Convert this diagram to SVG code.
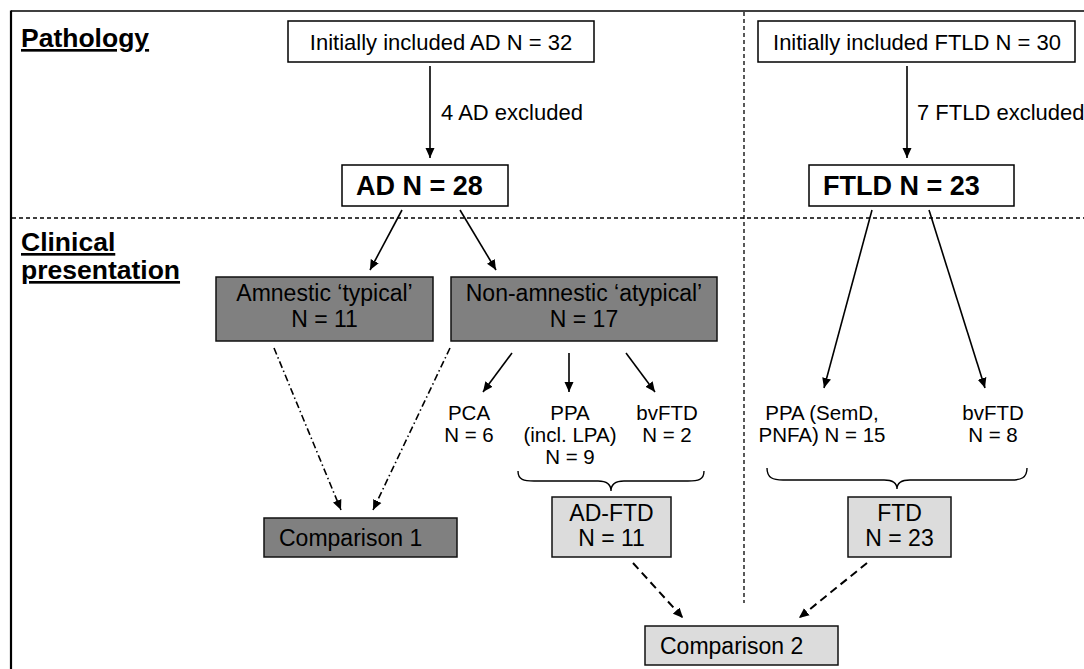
<svg xmlns="http://www.w3.org/2000/svg" width="1084" height="669" viewBox="0 0 1084 669">
<style>
text{font-family:"Liberation Sans",Arial,sans-serif;fill:#000}
.t{font-size:22px}
.s{font-size:20.5px}
.tb{font-size:23px}
.h{font-size:26.5px;font-weight:bold;text-decoration:underline}
.b{font-size:27px;font-weight:bold}
.m{text-anchor:middle}
.wb{fill:#fff;stroke:#000;stroke-width:1.5}
.dk{fill:#808080;stroke:#111;stroke-width:1.5}
.lt{fill:#dcdcdc;stroke:#111;stroke-width:1.5}
.sep{stroke:#000;stroke-width:1.3;stroke-dasharray:4 3;fill:none}
.ar{stroke:#000;stroke-width:1.6;fill:none;marker-end:url(#ah)}
.dd{stroke:#000;stroke-width:1.6;fill:none;stroke-dasharray:7 3 1.5 3;marker-end:url(#ah)}
.da{stroke:#000;stroke-width:2;fill:none;stroke-dasharray:8 5;marker-end:url(#ah)}
.br{stroke:#000;stroke-width:1.4;fill:none}
</style>
<defs>
<marker id="ah" viewBox="0 0 10 10" refX="10" refY="5" markerUnits="userSpaceOnUse" markerWidth="10" markerHeight="10" orient="auto">
<path d="M0,0.5 L10,5 L0,9.5 Z" fill="#000"/>
</marker>
</defs>
<rect x="0" y="0" width="1084" height="669" fill="#fff"/>
<g id="frame">
<line x1="11" y1="11" x2="1084" y2="11" stroke="#000" stroke-width="1.5"/>
<line x1="11" y1="10.5" x2="11" y2="669" stroke="#000" stroke-width="2.2"/>
<line class="sep" x1="12" y1="218" x2="1084" y2="218"/>
<line class="sep" x1="744" y1="12" x2="744" y2="603"/>
</g>
<g id="section-labels">
<text class="h" x="21" y="47">Pathology</text>
<text class="h" x="21" y="251">Clinical</text>
<text class="h" x="21" y="279">presentation</text>
</g>
<g id="connectors">
<line class="ar" x1="430" y1="66" x2="430" y2="158"/>
<line class="ar" x1="907" y1="66" x2="907" y2="158"/>
<line class="ar" x1="402" y1="210" x2="370" y2="270"/>
<line class="ar" x1="460" y1="210" x2="496" y2="270"/>
<line class="ar" x1="872" y1="210" x2="824" y2="388"/>
<line class="ar" x1="929" y1="210" x2="985" y2="388"/>
<line class="ar" x1="512" y1="353" x2="483" y2="392"/>
<line class="ar" x1="569" y1="353" x2="569" y2="392"/>
<line class="ar" x1="626" y1="353" x2="655" y2="392"/>
<line class="dd" x1="274" y1="348" x2="341" y2="510"/>
<line class="dd" x1="450" y1="348" x2="373" y2="510"/>
<line class="da" x1="633" y1="563" x2="683" y2="618"/>
<line class="da" x1="867" y1="563" x2="799" y2="618"/>
<path class="br" d="M518,471 C518,480 524,481 534,481 L598,481 C607,481 611,484 611,491 C611,484 615,481 624,481 L688,481 C698,481 704,480 704,471"/>
<path class="br" d="M767,468 C767,478 773,480 783,480 L884,480 C893,480 897,483 897,489 C897,483 901,480 910,480 L1011,480 C1021,480 1027,478 1027,468"/>
<text class="t" x="441" y="120">4 AD excluded</text>
<text class="t" x="917" y="120">7 FTLD excluded</text>
</g>
<g id="n-init-ad">
<rect class="wb" x="288" y="21" width="306" height="41"/>
<text class="t m" x="441" y="50">Initially included AD N = 32</text>
</g>
<g id="n-init-ftld">
<rect class="wb" x="758" y="21" width="317" height="41"/>
<text class="t m" x="917" y="50">Initially included FTLD N = 30</text>
</g>
<g id="n-ad">
<rect class="wb" x="342" y="165" width="166" height="41"/>
<text class="b" x="356" y="195">AD N = 28</text>
</g>
<g id="n-ftld">
<rect class="wb" x="809" y="165" width="205" height="41"/>
<text class="b" x="823" y="195">FTLD N = 23</text>
</g>
<g id="n-amnestic">
<rect class="dk" x="216" y="277" width="217" height="64"/>
<text class="tb m" x="324.5" y="301">Amnestic ‘typical’</text>
<text class="tb m" x="324.5" y="327">N = 11</text>
</g>
<g id="n-nonamnestic">
<rect class="dk" x="451" y="277" width="266" height="64"/>
<text class="tb m" x="584" y="301">Non-amnestic ‘atypical’</text>
<text class="tb m" x="584" y="327">N = 17</text>
</g>
<g id="n-pca">
<text class="s m" x="469" y="420">PCA</text>
<text class="s m" x="469" y="442">N = 6</text>
</g>
<g id="n-ppa-ad">
<text class="s m" x="570" y="420">PPA</text>
<text class="s m" x="570" y="442">(incl. LPA)</text>
<text class="s m" x="570" y="464">N = 9</text>
</g>
<g id="n-bvftd-ad">
<text class="s m" x="667" y="420">bvFTD</text>
<text class="s m" x="667" y="442">N = 2</text>
</g>
<g id="n-ppa-ftld">
<text class="s m" x="822" y="420">PPA (SemD,</text>
<text class="s m" x="822" y="442">PNFA) N = 15</text>
</g>
<g id="n-bvftd-ftld">
<text class="s m" x="993" y="420">bvFTD</text>
<text class="s m" x="993" y="442">N = 8</text>
</g>
<g id="n-comp1">
<rect class="dk" x="264" y="518" width="193" height="39"/>
<text class="tb" x="279" y="546">Comparison 1</text>
</g>
<g id="n-adftd">
<rect class="lt" x="552" y="497" width="119" height="60"/>
<text class="tb m" x="611.5" y="521">AD-FTD</text>
<text class="tb m" x="611.5" y="546">N = 11</text>
</g>
<g id="n-ftd">
<rect class="lt" x="848" y="497" width="103" height="60"/>
<text class="tb m" x="899.5" y="521">FTD</text>
<text class="tb m" x="899.5" y="546">N = 23</text>
</g>
<g id="n-comp2">
<rect class="lt" x="645" y="626" width="193" height="39"/>
<text class="tb" x="660" y="654">Comparison 2</text>
</g>
</svg>
